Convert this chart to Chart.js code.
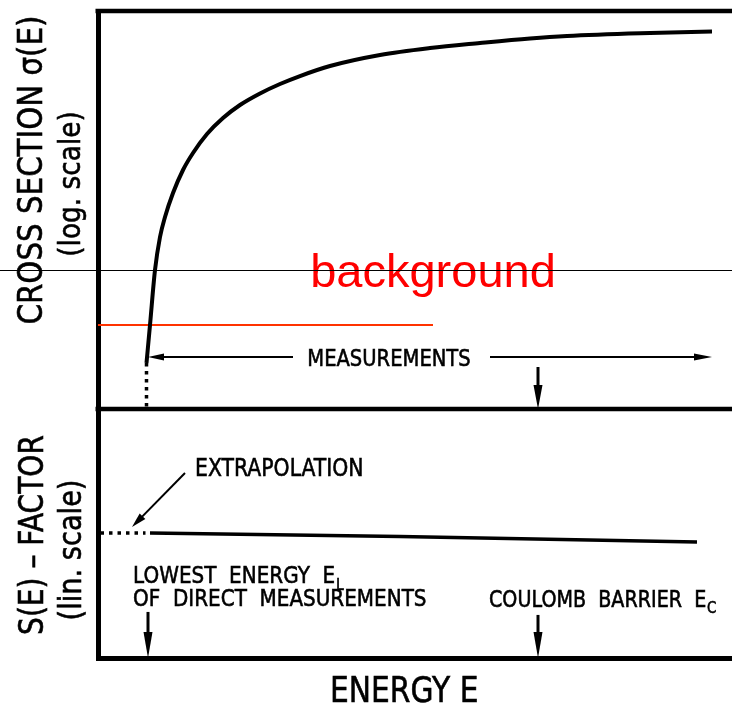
<!DOCTYPE html>
<html>
<head>
<meta charset="utf-8">
<script src="https://cdn.jsdelivr.net/npm/chart.js@4/dist/chart.umd.min.js"></script>
<style>
  html, body { margin: 0; padding: 0; background: #fff; }
  canvas { display: block; }
</style>
</head>
<body>
<canvas id="sFactorChart" width="732" height="705"></canvas>
<script>
// Cross section sigma(E) on a log scale (upper panel) and the astrophysical
// S-factor on a linear scale (lower panel), sharing one energy axis.

// energy in arbitrary units, E_L = 1
const energy = [0.97, 1.04, 1.14, 1.24, 1.34, 1.5, 1.7, 1.9, 2.18, 2.5, 2.84,
  3.24, 3.64, 4.04, 4.64, 5.64, 6.64, 7.64, 8.64, 9.38, 11.04, 12.28];
const crossSection = [8.4, 48.8, 622, 2866, 7230, 21970, 63700, 1.4e5, 3.37e5,
  7.07e5, 1.29e6, 2.2e6, 3.41e6, 4.93e6, 7.84e6, 1.305e7, 1.8e7, 2.27e7,
  2.8e7, 3.14e7, 3.61e7, 3.87e7];

const sEnergy = [1.04, 6.04, 11.98];
const sFactor = [5.02, 4.88, 4.66];
const extrapEnergy = [0.05, 0.95];

const E_LOW = 1.0;
const E_COULOMB = 8.8;
const E_MAX = 12.68;

// background level and its marker line
const backgroundLevel = 48.8;
const backgroundEnd = 6.7;
const backgroundLabelLevel = 622;

// "MEASUREMENTS" bracket
const measureLevel = 11.1;
const measureSpan = [E_LOW, 12.28];
const measureGap = [3.9, 7.84];

const CONDENSE = 0.85;
const LETTERING = '"DejaVu Sans", "Noto Sans", sans-serif';

const pts = (xs, ys) => xs.map((x, i) => ({ x, y: ys[i] }));

function arrow(ctx, x1, y1, x2, y2, len, half, width) {
  const ang = Math.atan2(y2 - y1, x2 - x1);
  ctx.lineWidth = width;
  ctx.beginPath();
  ctx.moveTo(x1, y1);
  ctx.lineTo(x2 - Math.cos(ang) * len * 0.5, y2 - Math.sin(ang) * len * 0.5);
  ctx.stroke();
  ctx.save();
  ctx.translate(x2, y2);
  ctx.rotate(ang);
  ctx.beginPath();
  ctx.moveTo(0, 0);
  ctx.lineTo(-len, -half);
  ctx.lineTo(-len, half);
  ctx.closePath();
  ctx.fill();
  ctx.restore();
}

// stencil-like lettering: condensed and slightly heavier than the plain face
function label(ctx, item) {
  ctx.save();
  ctx.translate(item.x, item.y);
  if (item.rotate) ctx.rotate(-Math.PI / 2);
  ctx.scale(CONDENSE, 1);
  ctx.font = `${item.size}px ${LETTERING}`;
  ctx.textAlign = item.align || 'left';
  ctx.textBaseline = 'alphabetic';
  ctx.fillStyle = '#000';
  ctx.strokeStyle = '#000';
  ctx.lineWidth = 0.6;
  ctx.fillText(item.text, 0, 0);
  ctx.strokeText(item.text, 0, 0);
  if (item.sub) {
    const w = ctx.measureText(item.text).width;
    ctx.font = `${item.size * 0.7}px ${LETTERING}`;
    ctx.fillText(item.sub, w + 1, item.size * 0.28);
    ctx.strokeText(item.sub, w + 1, item.size * 0.28);
  }
  ctx.restore();
}

const labels = [
  { text: 'MEASUREMENTS', x: 389, y: 366, size: 23, align: 'center' },
  { text: 'EXTRAPOLATION', x: 195, y: 476, size: 24 },
  { text: 'LOWEST  ENERGY  E', sub: 'L', x: 133, y: 583, size: 23.5 },
  { text: 'OF  DIRECT  MEASUREMENTS', x: 133, y: 606, size: 23.5 },
  { text: 'COULOMB  BARRIER  E', sub: 'C', x: 489, y: 607, size: 22.5 },
  { text: 'ENERGY E', x: 330, y: 702, size: 35 },
  { text: 'CROSS SECTION σ(E)', x: 42, y: 170, size: 34.5, rotate: true, align: 'center' },
  { text: '(log. scale)', x: 80, y: 184, size: 31, rotate: true, align: 'center' },
  { text: 'S(E) – FACTOR', x: 43, y: 535, size: 33, rotate: true, align: 'center' },
  { text: '(lin. scale)', x: 81, y: 550, size: 32, rotate: true, align: 'center' }
];

const frameAndNotes = {
  id: 'frameAndNotes',
  beforeDatasetsDraw(chart) {
    const { ctx, chartArea: area, scales: { ySigma } } = chart;
    ctx.save();
    ctx.strokeStyle = '#000';
    ctx.lineWidth = 4.5;
    ctx.beginPath();
    ctx.moveTo(area.left - 2.5, ySigma.top);
    ctx.lineTo(area.right, ySigma.top);
    ctx.moveTo(area.left - 2.5, ySigma.bottom);
    ctx.lineTo(area.right, ySigma.bottom);
    ctx.stroke();
    ctx.restore();
  },
  afterDatasetsDraw(chart) {
    const { ctx, scales: { x, ySigma, yS } } = chart;
    ctx.save();
    ctx.strokeStyle = '#000';
    ctx.fillStyle = '#000';

    // measurement range bracket
    const my = ySigma.getPixelForValue(measureLevel);
    arrow(ctx, x.getPixelForValue(measureGap[0]), my, x.getPixelForValue(measureSpan[0]), my, 16, 3.5, 2);
    arrow(ctx, x.getPixelForValue(measureGap[1]), my, x.getPixelForValue(measureSpan[1]), my, 18, 3.5, 2);

    // Coulomb barrier marker in the upper panel
    const xc = x.getPixelForValue(E_COULOMB);
    arrow(ctx, xc, ySigma.getPixelForValue(6.98), xc, ySigma.bottom, 24, 4.5, 3);

    // E_L and E_C markers on the energy axis
    const xl = x.getPixelForValue(E_LOW);
    arrow(ctx, xl, yS.getPixelForValue(1.85), xl, yS.bottom, 26, 4.5, 3);
    arrow(ctx, xc, yS.getPixelForValue(1.73), xc, yS.bottom, 26, 4.5, 3);

    // pointer to the extrapolated part
    arrow(ctx, x.getPixelForValue(1.74), yS.getPixelForValue(7.43),
      x.getPixelForValue(0.68), yS.getPixelForValue(5.26), 15, 4, 2);

    labels.forEach(item => label(ctx, item));

    // background label with its level line across the full width
    const by = Math.round(ySigma.getPixelForValue(backgroundLabelLevel)) + 0.5;
    ctx.font = '47px "Liberation Sans", Arial, sans-serif';
    ctx.fillStyle = '#ff0000';
    ctx.textAlign = 'center';
    ctx.textBaseline = 'alphabetic';
    ctx.fillText('background', x.getPixelForValue(backgroundEnd), by + 16);
    ctx.lineWidth = 1;
    ctx.beginPath();
    ctx.moveTo(0, by);
    ctx.lineTo(chart.width, by);
    ctx.stroke();
    ctx.restore();
  }
};

const axisBorder = { display: true, width: 5, color: '#000' };
const hiddenGrid = { display: false, drawTicks: false };

new Chart(document.getElementById('sFactorChart'), {
  type: 'line',
  data: {
    datasets: [
      {
        label: 'cross section',
        data: pts(energy, crossSection),
        yAxisID: 'ySigma',
        borderColor: '#000',
        borderWidth: 4,
        cubicInterpolationMode: 'monotone',
        pointRadius: 0
      },
      {
        label: 'background',
        data: pts([0, backgroundEnd], [backgroundLevel, backgroundLevel]),
        yAxisID: 'ySigma',
        borderColor: '#ff3300',
        borderWidth: 2,
        pointRadius: 0
      },
      {
        label: 'lowest energy drop',
        data: pts([energy[0], energy[0]], [crossSection[0], 1]),
        yAxisID: 'ySigma',
        borderColor: '#000',
        borderWidth: 3.5,
        borderDash: [3.5, 4.5],
        pointRadius: 0
      },
      {
        label: 'S-factor',
        data: pts(sEnergy, sFactor),
        yAxisID: 'yS',
        borderColor: '#000',
        borderWidth: 3.5,
        pointRadius: 0
      },
      {
        label: 'extrapolation',
        data: pts(extrapEnergy, [sFactor[0], sFactor[0]]),
        yAxisID: 'yS',
        borderColor: '#000',
        borderWidth: 3.5,
        borderDash: [3.5, 5],
        pointRadius: 0
      }
    ]
  },
  options: {
    responsive: false,
    animation: false,
    events: [],
    layout: { padding: { left: 98, top: 11, right: 0, bottom: 47 } },
    plugins: {
      legend: { display: false },
      tooltip: { enabled: false }
    },
    scales: {
      x: {
        type: 'linear',
        min: 0,
        max: E_MAX,
        ticks: { display: false },
        grid: hiddenGrid,
        border: axisBorder
      },
      ySigma: {
        type: 'logarithmic',
        position: 'left',
        stack: 'panels',
        stackWeight: 398,
        weight: 2,
        min: 1,
        max: 1e8,
        ticks: { display: false },
        grid: hiddenGrid,
        border: axisBorder
      },
      yS: {
        type: 'linear',
        position: 'left',
        stack: 'panels',
        stackWeight: 249,
        weight: 1,
        min: 0,
        max: 10,
        ticks: { display: false },
        grid: hiddenGrid,
        border: axisBorder
      }
    }
  },
  plugins: [frameAndNotes]
});
</script>
</body>
</html>
